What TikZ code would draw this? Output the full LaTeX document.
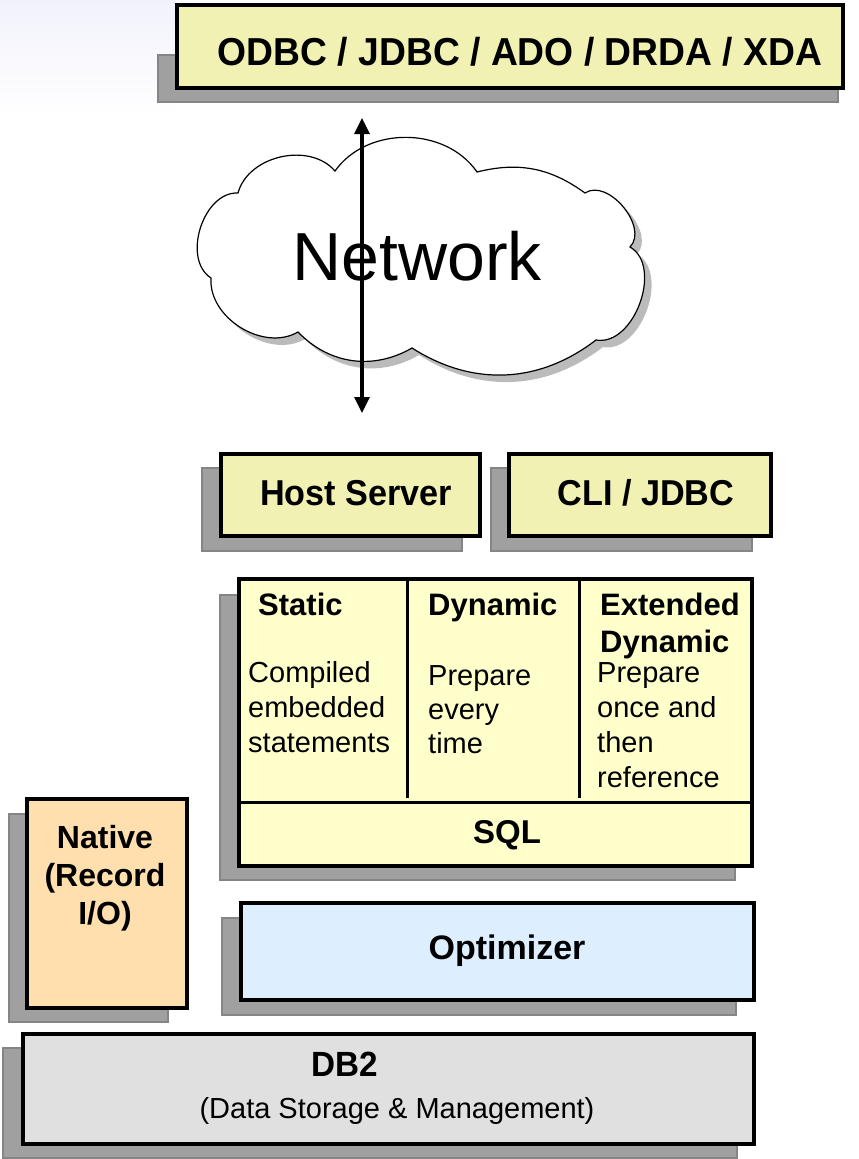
\documentclass[tikz,border=0pt]{standalone}
\usepackage{fontspec}
\setmainfont{Liberation Sans}
\usepackage{graphicx}
\usetikzlibrary{arrows.meta}
\definecolor{boxyellow}{HTML}{F1F1B4}
\definecolor{sqlyellow}{HTML}{FFFFCC}
\definecolor{nativeorange}{HTML}{FFDFAE}
\definecolor{optblue}{HTML}{DDEEFF}
\definecolor{dbgray}{HTML}{E0E0E0}
\definecolor{shgray}{HTML}{A0A0A0}
\definecolor{shedge}{HTML}{858585}
\definecolor{cloudshadow}{HTML}{BBBBBB}
\definecolor{bgtint}{HTML}{F2F2FC}
\newcommand\cloudoutline{(238,193) to[bend left=62] (335,171) to[bend left=55] (477,172) to[bend left=25] (585,193)
  to[bend left=84] (630,247) to[bend left=80] (596,340) to[bend left=35] (412,348) to[bend left=38] (298,332)
  to[bend left=62] (211,278) to[bend left=75] (238,193) -- cycle}
\begin{document}
\begin{tikzpicture}[x=1pt,y=-1pt,
  shadowbox/.style={fill=shgray, draw=shedge, line width=2pt},
  mainbox/.style={draw=black, line width=3.5pt, anchor=north west, inner sep=0pt},
  boldtxt/.style={font=\fontsize{#1}{#1}\selectfont\bfseries, inner sep=0pt, anchor=base},
  regtxt/.style={font=\fontsize{#1}{#1}\selectfont, inner sep=0pt, anchor=base west},
  divider/.style={line width=3pt}]
\useasboundingbox (0,0) rectangle (859,1159);
% faint background tint
\shade[top color=bgtint, bottom color=white] (0,0) rectangle (175,115);

% ---- top box
\fill[shadowbox] (158,55) rectangle (838,102);
\node[mainbox, fill=boxyellow, minimum width=666pt, minimum height=83pt] (top) at (175,3) {};
\node[boldtxt=39] (toptxt) at (520,65) {\scalebox{0.955}[1]{ODBC / JDBC / ADO / DRDA / XDA}};

% ---- cloud
\begin{scope}[shift={(7,7)}]
\fill[cloudshadow] \cloudoutline;
\end{scope}
\draw[fill=white, line width=1.2pt] \cloudoutline;
\node[font=\fontsize{68}{68}\selectfont, inner sep=0pt, anchor=base] (net) at (417,280) {Network};
\coordinate (netTop) at (362,118);
\coordinate (netBot) at (362,413);
\draw[line width=3.2pt, {Triangle[length=16pt,width=15pt]}-{Triangle[length=16pt,width=15pt]}] (netTop) -- (netBot);

% ---- host server / CLI
\fill[shadowbox] (202,468) rectangle (462,551);
\node[mainbox, fill=boxyellow, minimum width=259pt, minimum height=82pt] (host) at (219,452) {};
\node[boldtxt=36] (hosttxt) at (356,505) {\scalebox{0.95}[1]{Host Server}};
\fill[shadowbox] (491,468) rectangle (752,551);
\node[mainbox, fill=boxyellow, minimum width=262pt, minimum height=82pt] (cli) at (507,452) {};
\node[boldtxt=36] (clitxt) at (646,505) {\scalebox{0.95}[1]{CLI / JDBC}};

% ---- SQL box
\fill[shadowbox] (220,595) rectangle (735,880);
\node[mainbox, fill=sqlyellow, minimum width=513pt, minimum height=287pt] (sql) at (237,577) {};
\draw[divider] (237,802) -- (750,802);
\draw[divider] (407,577) -- (407,798);
\draw[divider] (579,577) -- (579,798);
\node[boldtxt=31, anchor=base west] (static) at (258,615) {Static};
\node[regtxt=29] (s1) at (248,682) {Compiled};
\node[regtxt=29] (s2) at (248,717) {embedded};
\node[regtxt=29] (s3) at (248,752) {statements};
\node[boldtxt=31, anchor=base west] (dyn) at (428,615) {Dynamic};
\node[regtxt=29] (d1) at (428,685) {Prepare};
\node[regtxt=29] (d2) at (428,719) {every};
\node[regtxt=29] (d3) at (428,753) {time};
\node[boldtxt=31, anchor=base west] (ext1) at (600,615) {Extended};
\node[boldtxt=31, anchor=base west] (ext2) at (600,652) {Dynamic};
\node[regtxt=29] (e1) at (597,682) {Prepare};
\node[regtxt=29] (e2) at (597,717) {once and};
\node[regtxt=29] (e3) at (597,752) {then};
\node[regtxt=29] (e4) at (597,787) {reference};
\node[boldtxt=33] (sqltxt) at (507,843) {SQL};

% ---- Native
\fill[shadowbox] (9,814) rectangle (168,1022);
\node[mainbox, fill=nativeorange, minimum width=160pt, minimum height=209pt] (native) at (25,797) {};
\node[boldtxt=32] (n1) at (105,848) {Native};
\node[boldtxt=32] (n2) at (105,886) {(Record};
\node[boldtxt=32] (n3) at (105,924) {I/O)};

% ---- Optimizer
\fill[shadowbox] (222,918) rectangle (736,1015);
\node[mainbox, fill=optblue, minimum width=513pt, minimum height=97pt] (opt) at (239,901) {};
\node[boldtxt=34] (opttxt) at (507,959) {Optimizer};

% ---- DB2
\fill[shadowbox] (3,1048) rectangle (737,1158);
\node[mainbox, fill=dbgray, minimum width=731pt, minimum height=110pt] (db2) at (21,1032) {};
\node[boldtxt=35] (db2txt) at (345,1076) {\scalebox{0.95}[1]{DB2}};
\node[font=\fontsize{29}{29}\selectfont, inner sep=0pt, anchor=base] (db2sub) at (397,1118) {(Data Storage \& Management)};
\end{tikzpicture}
\end{document}
